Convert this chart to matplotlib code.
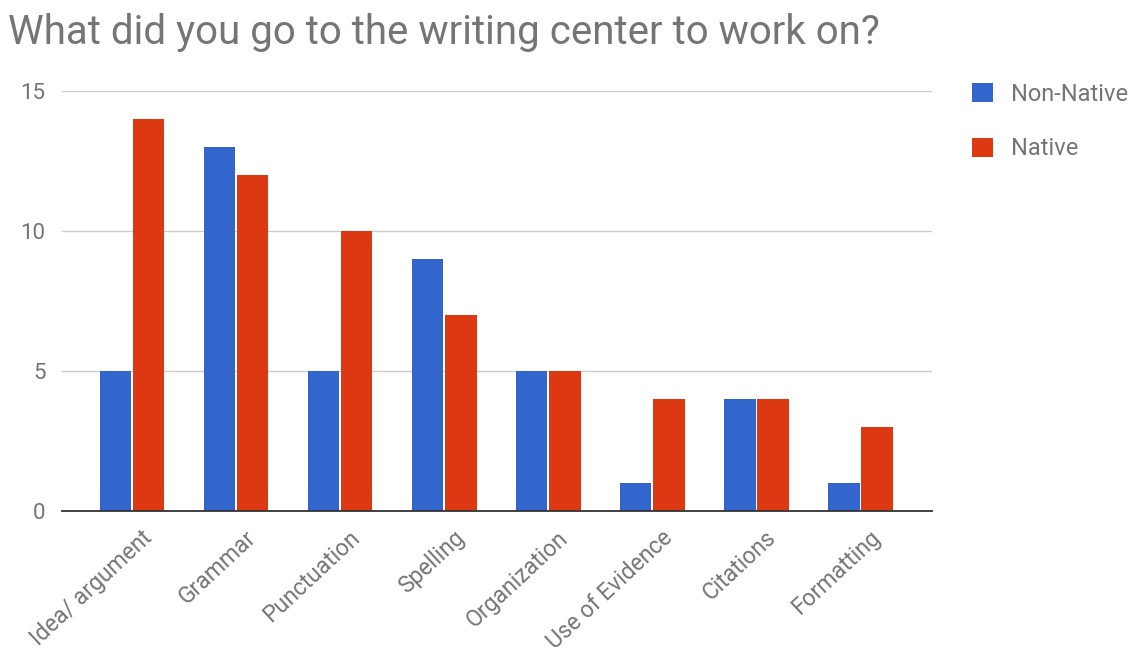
import matplotlib
matplotlib.use('Agg')
import matplotlib.pyplot as plt
import matplotlib.transforms as mtransforms
import numpy as np

categories = ["Idea/ argument", "Grammar", "Punctuation", "Spelling",
              "Organization", "Use of Evidence", "Citations", "Formatting"]
non_native = [5, 13, 5, 9, 5, 1, 4, 1]
native = [14, 12, 10, 7, 5, 4, 4, 3]
series_names = ["Non-Native", "Native"]
yticks = [0, 5, 10, 15]

plt.rcParams['font.family'] = ['Roboto', 'DejaVu Sans']
gray = '#757575'

fig = plt.figure(figsize=(11.38, 6.59), dpi=100)
ax = fig.add_axes([62 / 1138, 148 / 659, 870 / 1138, 420 / 659])

x = np.arange(len(categories))
w = 0.305
ax.bar(x - 0.159, non_native, w, color='#3366CC', label=series_names[0], zorder=3)
ax.bar(x + 0.159, native, w, color='#DC3912', label=series_names[1], zorder=3)

ax.set_xlim(-0.673, 7.69)
ax.set_ylim(0, 15)
ax.set_yticks(yticks)
ax.yaxis.grid(True, color='#cccccc', linewidth=1, zorder=0)
ax.tick_params(axis='y', length=0, pad=12, labelcolor=gray, labelsize=16)
for s in ['top', 'right', 'left']:
    ax.spines[s].set_visible(False)
ax.spines['bottom'].set_color('#333333')
ax.spines['bottom'].set_linewidth(1.3)
ax.spines['bottom'].set_zorder(4)

ax.set_xticks(x)
ax.set_xticklabels(categories, rotation=43, ha='right', rotation_mode='anchor',
                   color=gray, fontsize=16.5)
ax.tick_params(axis='x', length=0, pad=11)
offset = mtransforms.ScaledTranslation(9 / 100, 0, fig.dpi_scale_trans)
for lbl in ax.get_xticklabels():
    lbl.set_transform(lbl.get_transform() + offset)

fig.text(8 / 1138, 1 - 32 / 659, "What did you go to the writing center to work on?",
         fontsize=29, color=gray, va='center', ha='left')

ax.legend(loc='upper left', bbox_to_anchor=(1.046, 1.02), frameon=False,
          fontsize=17, labelcolor=gray, handlelength=0.9, handleheight=0.9,
          labelspacing=1.35, handletextpad=0.75, borderpad=0, borderaxespad=0)

fig.savefig('out.png', dpi=100)
